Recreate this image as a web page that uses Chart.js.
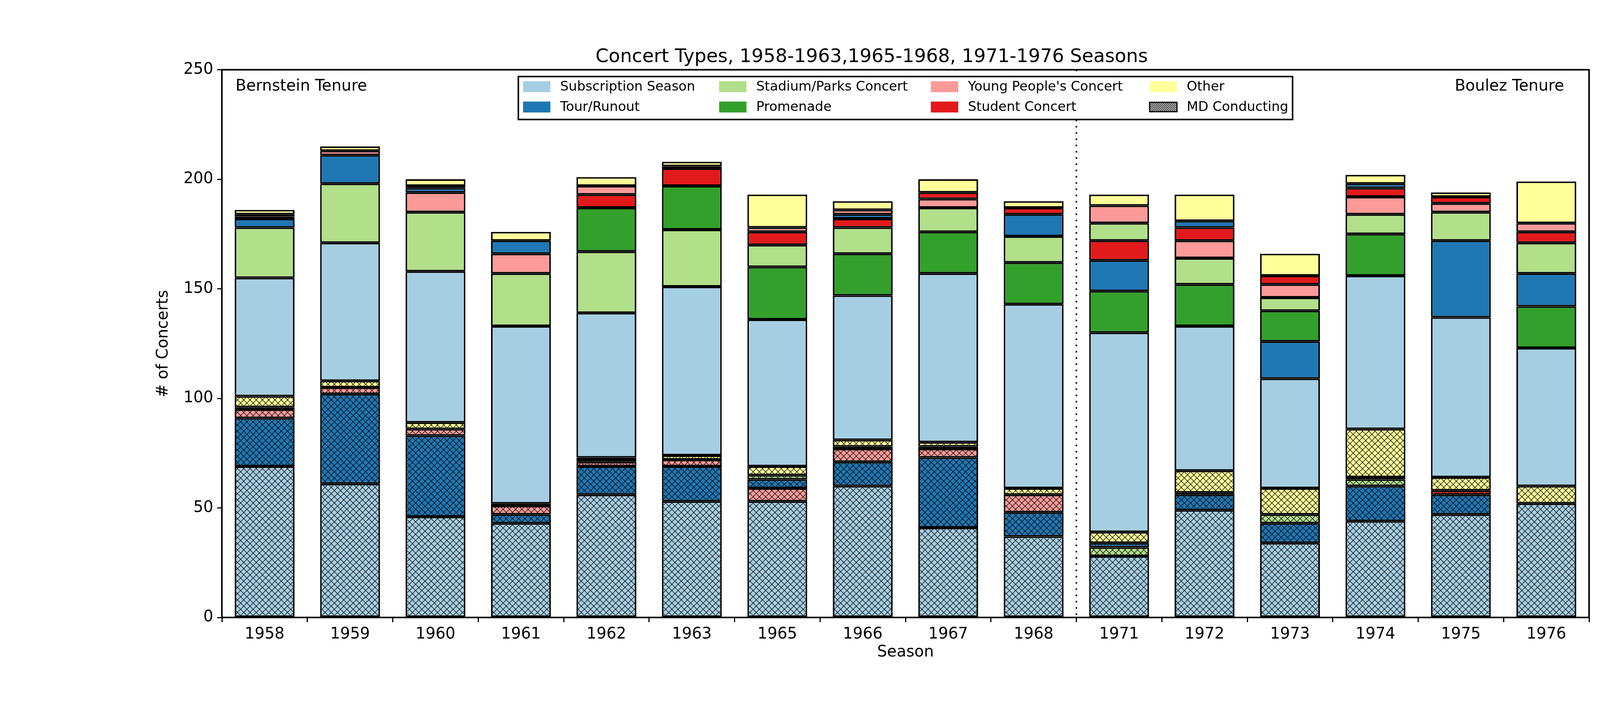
<!DOCTYPE html>
<html><head><meta charset="utf-8">
<script src="https://cdn.jsdelivr.net/npm/chart.js@4"></script>
<style>html,body{margin:0;padding:0;background:#fff}</style>
</head><body>
<canvas id="c" width="4500" height="1800" style="width:4500px;height:1800px"></canvas>
<script>
const seasons = ['1958','1959','1960','1961','1962','1963','1965','1966','1967','1968','1971','1972','1973','1974','1975','1976'];
const typeNames = ['Subscription Season','Tour/Runout','Stadium/Parks Concert','Promenade',"Young People's Concert",'Student Concert','Other'];
const typeColors = ['#a6cee3','#1f78b4','#b2df8a','#33a02c','#fb9a99','#e31a1c','#ffff99'];
// MD conducting counts
const mdSub     = [69,61,46,43,56,53,53,60,41,37,28,49,34,44,47,52];
const mdTour    = [22,41,37,4,13,16,4,11,32,11,2,7,9,16,9,0];
const mdStadium = [0,0,0,0,0,0,2,0,0,0,4,0,4,3,0,0];
const mdProm    = [1,0,0,0,0,0,0,1,1,0,0,0,0,1,0,0];
const mdYP      = [4,3,3,4,2,3,6,6,4,8,0,0,0,0,0,0];
const mdStudent = [0,0,0,0,1,0,0,0,0,0,0,1,0,0,2,0];
const mdOther   = [5,3,3,1,1,2,4,3,2,3,5,10,12,22,6,8];
// other conductors
const nSub      = [54,63,69,81,66,77,67,66,77,84,91,66,50,70,73,63];
const nTour     = [4,13,2,6,0,0,0,2,0,10,14,3,17,2,35,15];
const nStadium  = [23,27,27,24,28,26,10,12,11,12,8,12,6,9,13,14];
const nProm     = [0,0,0,0,20,20,24,19,19,19,19,19,14,19,0,19];
const nYP       = [1,2,9,9,4,1,2,2,4,0,8,8,6,8,4,4];
const nStudent  = [1,0,1,0,6,8,6,4,3,3,9,6,4,4,3,5];
const nOther    = [2,2,3,4,4,2,15,4,6,3,5,12,10,4,2,19];
const yTicks = [0,50,100,150,200,250];

const mdArr = [mdSub,mdTour,mdStadium,mdProm,mdYP,mdStudent,mdOther];
const nArr  = [nSub,nTour,nStadium,nProm,nYP,nStudent,nOther];

function hatch(color){
  const c=document.createElement('canvas');c.width=16;c.height=16;
  const g=c.getContext('2d');g.fillStyle=color;g.fillRect(0,0,16,16);
  g.strokeStyle='#000';g.lineWidth=1.3;g.beginPath();
  g.moveTo(0,0);g.lineTo(16,16);g.moveTo(0,16);g.lineTo(16,0);
  g.moveTo(-2,2);g.lineTo(2,-2);g.moveTo(14,18);g.lineTo(18,14);
  g.moveTo(-2,14);g.lineTo(2,18);g.moveTo(14,-2);g.lineTo(18,2);
  g.stroke();
  return document.getElementById('c').getContext('2d').createPattern(c,'repeat');
}

// build floating segments: each group sorted descending, Other last
const ranges = {md:typeNames.map(()=>seasons.map(()=>null)), n:typeNames.map(()=>seasons.map(()=>null))};
seasons.forEach((s,i)=>{
  let base=0;
  [['md',mdArr],['n',nArr]].forEach(([key,arr])=>{
    const idx=[0,1,2,3,4,5].sort((a,b)=>arr[b][i]-arr[a][i]||a-b);
    idx.push(6);
    idx.forEach(t=>{const v=arr[t][i]; if(v>0){ranges[key][t][i]=[base,base+v]; base+=v;}});
  });
});

const datasets=[];
typeNames.forEach((nm,t)=>{
  datasets.push({label:nm+' (MD)',data:ranges.md[t],backgroundColor:hatch(typeColors[t]),borderColor:'#000',borderWidth:4,borderSkipped:false});
  datasets.push({label:nm,data:ranges.n[t],backgroundColor:typeColors[t],borderColor:'#000',borderWidth:4,borderSkipped:false});
});

const overlay={id:'overlay',afterDraw(ch){
  const g=ch.ctx,a=ch.chartArea,x=ch.scales.x;
  g.save();
  const xm=(x.getPixelForValue(9)+x.getPixelForValue(10))/2;
  g.setLineDash([4,12]);g.lineWidth=4;g.strokeStyle='#000';
  g.beginPath();g.moveTo(xm,a.top);g.lineTo(xm,a.bottom);g.stroke();g.setLineDash([]);
  g.fillStyle='#000';g.font='40px "DejaVu Sans"';g.textBaseline='middle';
  g.textAlign='left';g.fillText('Bernstein Tenure',603,222);
  g.textAlign='right';g.fillText('Boulez Tenure',4004,222);
  g.fillStyle='#fff';g.fillRect(1327,196,1982,110);
  g.lineWidth=4;g.strokeRect(1327,196,1982,110);
  const cols=[1339,1841,2383,2943],rows=[222,274];
  const items=typeNames.map((n,t)=>({n,c:typeColors[t]}));
  items.push({n:'MD Conducting',md:true});
  g.font='34px "DejaVu Sans"';g.textAlign='left';
  items.forEach((it,k)=>{
    const cx=cols[Math.floor(k/2)],cy=rows[k%2];
    if(it.md){
      g.fillStyle='#ddd';g.fillRect(cx,cy-12,70,24);
      g.save();g.beginPath();g.rect(cx,cy-12,70,24);g.clip();
      g.strokeStyle='#000';g.lineWidth=1.5;g.beginPath();
      for(let q=-30;q<80;q+=5){g.moveTo(cx+q,cy+12);g.lineTo(cx+q+24,cy-12);}
      g.stroke();g.restore();
      g.lineWidth=3;g.strokeRect(cx,cy-12,70,24);
    } else {g.fillStyle=it.c;g.fillRect(cx,cy-14,70,28);}
    g.fillStyle='#000';g.fillText(it.n,cx+95,cy+1);
  });
  g.lineWidth=4;g.strokeRect(a.left,a.top,a.right-a.left,a.bottom-a.top);
  g.restore();
}};

new Chart(document.getElementById('c'),{
  type:'bar',
  data:{labels:seasons,datasets},
  options:{
    responsive:false,animation:false,devicePixelRatio:1,
    layout:{padding:{left:395,right:432,top:0,bottom:105}},
    datasets:{bar:{grouped:false,barPercentage:0.7,categoryPercentage:1}},
    plugins:{legend:{display:false},tooltip:{enabled:false},
      title:{display:true,text:'Concert Types, 1958-1963,1965-1968, 1971-1976 Seasons',color:'#000',
        font:{family:'DejaVu Sans',size:48,weight:'normal'},padding:{top:118,bottom:3}}},
    scales:{
      x:{grid:{display:true,drawOnChartArea:false,color:'#000',tickLength:12,lineWidth:3},border:{display:false},
        ticks:{color:'#000',font:{family:'DejaVu Sans',size:40},padding:8},
        title:{display:true,text:'Season',color:'#000',font:{family:'DejaVu Sans',size:40},padding:{top:0,bottom:0}},
        afterFit:s=>{s.height=114;}},
      y:{min:0,max:250,grid:{display:true,drawOnChartArea:false,color:'#000',tickLength:12,lineWidth:3},border:{display:false},
        afterBuildTicks:s=>{s.ticks=yTicks.map(v=>({value:v}));},
        ticks:{color:'#000',font:{family:'DejaVu Sans',size:40},padding:10},
        title:{display:true,text:'# of Concerts',color:'#000',font:{family:'DejaVu Sans',size:40},padding:{top:0,bottom:0}},
        afterFit:s=>{s.width=173;}}
    }
  },
  plugins:[overlay]
});
</script>
</body></html>
